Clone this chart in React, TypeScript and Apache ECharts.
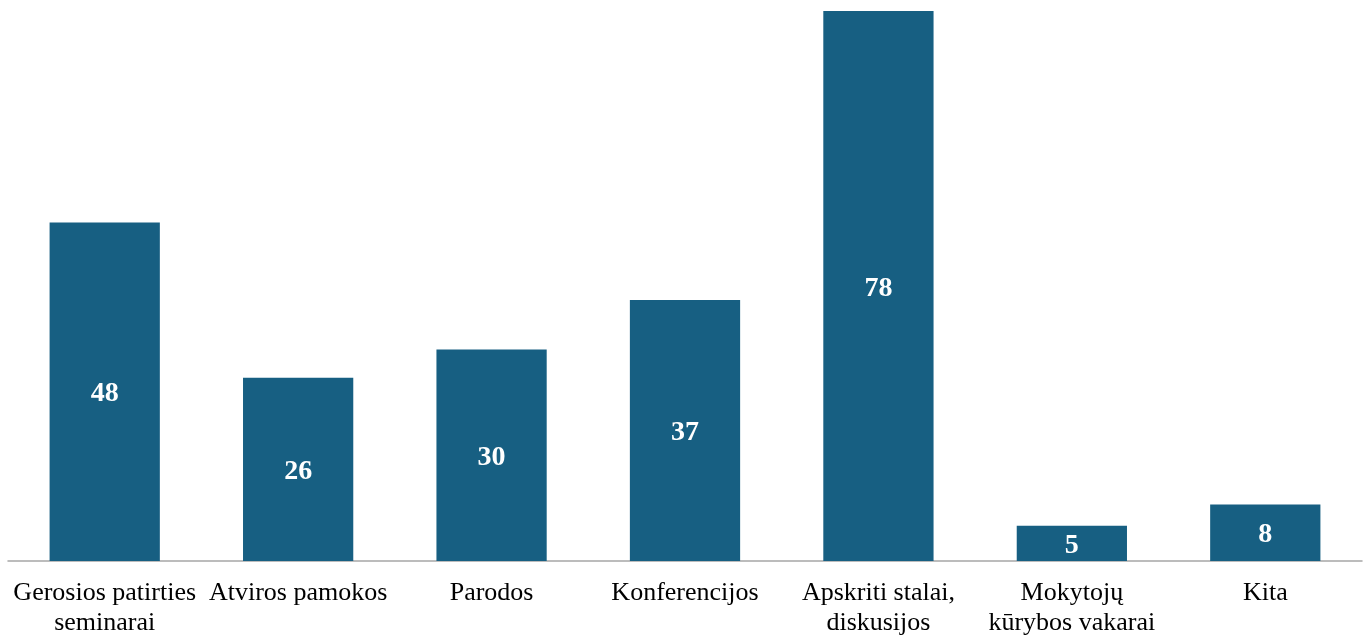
import React, { useEffect, useRef } from "react";
import * as echarts from "echarts";

const categories = [
  "Gerosios patirties\nseminarai",
  "Atviros pamokos",
  "Parodos",
  "Konferencijos",
  "Apskriti stalai,\ndiskusijos",
  "Mokytojų\nkūrybos vakarai",
  "Kita",
];
const values = [48, 26, 30, 37, 78, 5, 8];

export default function App() {
  const ref = useRef<HTMLDivElement>(null);
  useEffect(() => {
    if (!ref.current) return;
    const chart = echarts.init(ref.current, undefined, { renderer: "svg" });
    chart.setOption({
      animation: false,
      grid: { left: 8, right: 3, top: 11, bottom: 76, containLabel: false },
      xAxis: {
        type: "category",
        data: categories,
        axisLine: { lineStyle: { color: "#a6a6a6", width: 1.5 } },
        axisTick: { show: false },
        axisLabel: {
          interval: 0,
          color: "#000",
          fontFamily: "Liberation Serif",
          fontSize: 26,
          lineHeight: 30,
          margin: 15,
        },
      },
      yAxis: {
        type: "value",
        min: 0,
        max: 78,
        show: false,
        splitLine: { show: false },
      },
      series: [
        {
          type: "bar",
          data: values,
          barWidth: "57%",
          itemStyle: { color: "#175f82" },
          label: {
            show: true,
            position: "inside",
            color: "#fff",
            fontFamily: "Liberation Serif",
            fontWeight: "bold",
            fontSize: 28,
          },
        },
      ],
    });
    return () => chart.dispose();
  }, []);
  return (
    <div
      ref={ref}
      style={{ position: "fixed", left: 0, top: 0, width: 1365, height: 637 }}
    />
  );
}
